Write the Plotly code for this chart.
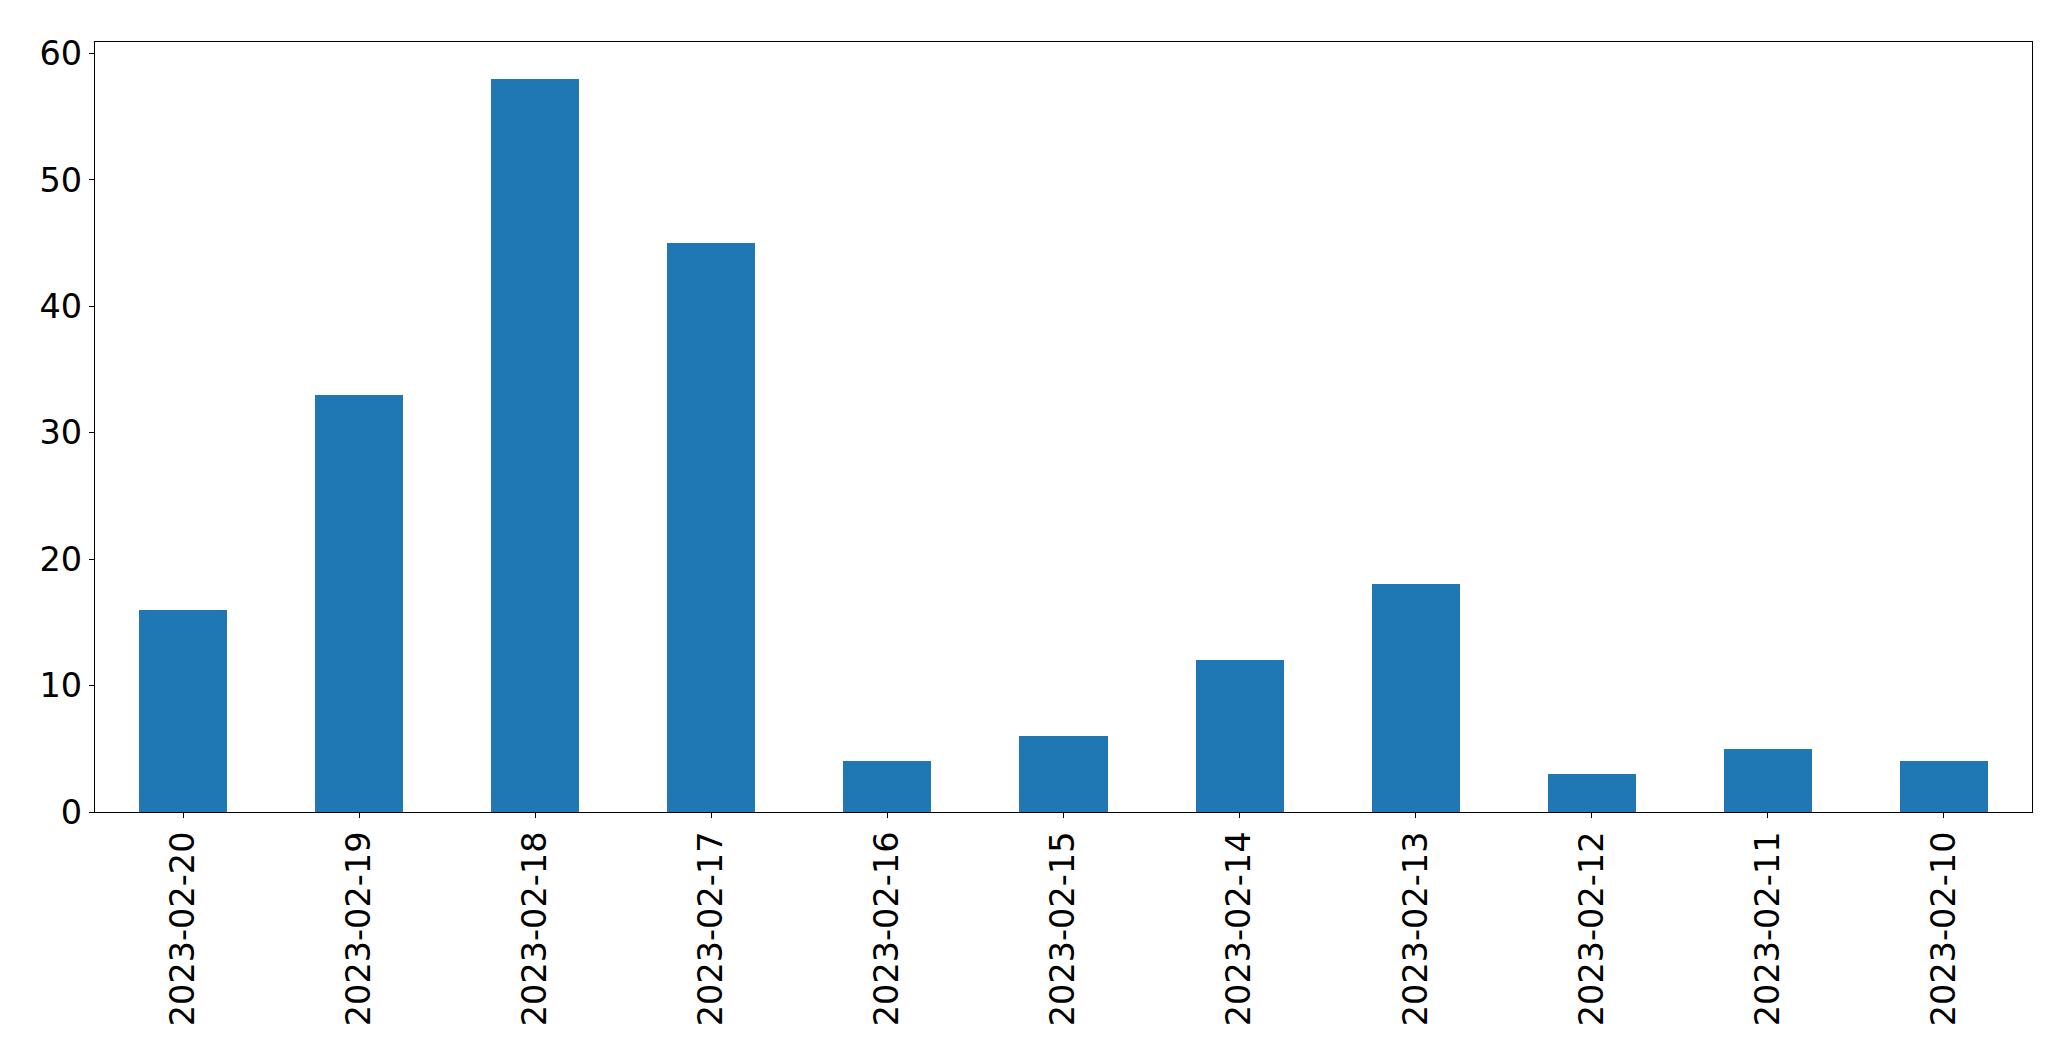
import plotly.graph_objects as go

dates = ["2023-02-20", "2023-02-19", "2023-02-18", "2023-02-17", "2023-02-16",
         "2023-02-15", "2023-02-14", "2023-02-13", "2023-02-12", "2023-02-11", "2023-02-10"]
counts = [16, 33, 58, 45, 4, 6, 12, 18, 3, 5, 4]
y_ticks = [0, 10, 20, 30, 40, 50, 60]

fig = go.Figure(go.Bar(x=dates, y=counts, marker=dict(color="#1f77b4", line=dict(width=0)), width=0.5))

axis_common = dict(showline=True, linecolor="black", linewidth=1.3, mirror=True,
                   ticks="outside", ticklen=5, tickcolor="black", tickwidth=1.2,
                   showgrid=False, zeroline=False, automargin=False,
                   tickfont=dict(family="DejaVu Sans", size=33.5, color="black"))

# page body has an 8px margin, so margins are offset to place the plot area correctly
fig.update_layout(
    width=2071, height=1064,
    margin=dict(l=87, r=47, t=34, b=260),
    plot_bgcolor="white", paper_bgcolor="white",
    showlegend=False, bargap=0,
    xaxis=dict(type="category", range=[-0.5, 10.5], tickangle=-90, **axis_common),
    yaxis=dict(range=[0, 60.9], tickvals=y_ticks, ticktext=[str(v) for v in y_ticks], **axis_common),
)

fig.write_html("out.html")
